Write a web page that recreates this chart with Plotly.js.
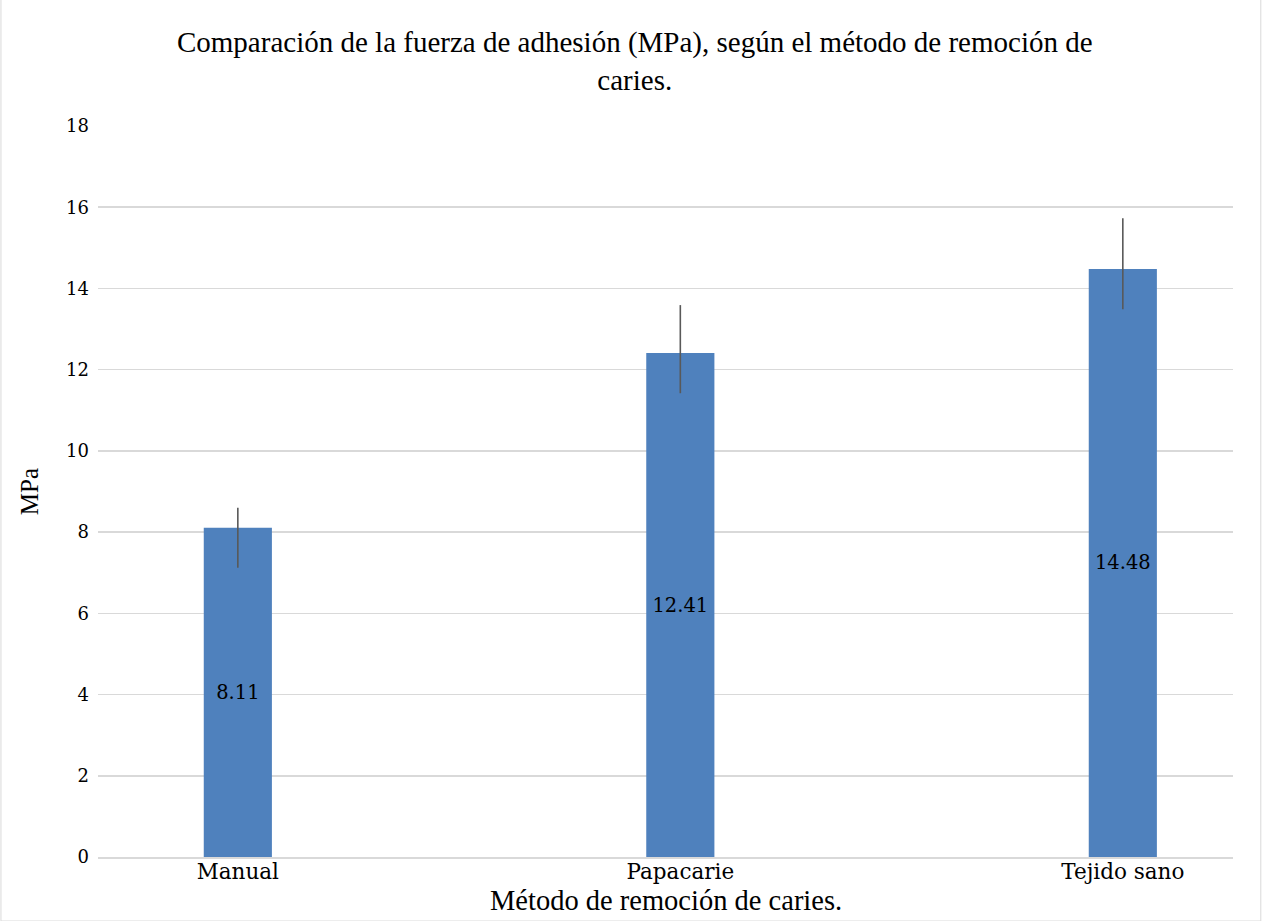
<!DOCTYPE html>
<html>
<head>
<meta charset="utf-8">
<script src="https://cdn.plot.ly/plotly-3.0.1.min.js"></script>
<style>html,body{margin:0;padding:0;background:#fff;}#chart{width:1262px;height:921px;}</style>
</head>
<body>
<div id="chart"></div>
<script>
const categories = ["Manual", "Papacarie", "Tejido sano"];
const values = [8.11, 12.41, 14.48];
const errPlus = [0.49, 1.18, 1.25];
const errMinus = [0.99, 0.99, 0.99];
const labels = ["8.11", "12.41", "14.48"];
const yTicks = [0, 2, 4, 6, 8, 10, 12, 14, 16, 18];
const xTitle = "Método de remoción de caries.";

const trace = {
  type: "bar",
  x: [0, 1, 2],
  y: values,
  width: 0.154,
  marker: {color: "#4F81BD", line: {width: 0}},
  text: labels,
  textposition: "inside",
  insidetextanchor: "middle",
  textangle: 0,
  textfont: {family: "DejaVu Serif", size: 19.5, color: "#000000"},
  error_y: {type: "data", symmetric: false, array: errPlus, arrayminus: errMinus,
            color: "#595959", thickness: 1.6, width: 0},
  hoverinfo: "none"
};

const layout = {
  width: 1262, height: 921,
  margin: {l: 98, r: 29, t: 126, b: 64},
  paper_bgcolor: "#ffffff", plot_bgcolor: "#ffffff",
  showlegend: false,
  title: {
    text: "Comparación de la fuerza de adhesión (MPa), según el método de remoción de<br>caries.",
    font: {family: "Liberation Serif", size: 29, color: "#000000"},
    xref: "container", x: 0.503, xanchor: "center",
    yref: "container", y: 0.9435, yanchor: "bottom"
  },
  xaxis: {
    range: [-0.316, 2.249],
    tickvals: [0, 1, 2],
    ticktext: categories,
    showgrid: false,
    zeroline: false,
    showline: true, linecolor: "#D9D9D9", linewidth: 1.5,
    ticks: "",
    ticklabelstandoff: -5,
    tickfont: {family: "DejaVu Serif", size: 21.5, color: "#000000"},
    fixedrange: true
  },
  yaxis: {
    range: [0, 18],
    tickvals: yTicks,
    showgrid: true, gridcolor: "#D9D9D9", gridwidth: 1.5,
    zeroline: false,
    showline: false,
    ticks: "",
    ticklabelstandoff: 8,
    tickfont: {family: "DejaVu Serif", size: 18, color: "#000000"},
    title: {text: "MPa", standoff: 20,
            font: {family: "Liberation Serif", size: 25, color: "#000000"}},
    fixedrange: true
  },
  annotations: [{
    text: xTitle, xref: "paper", yref: "paper", x: 0.5, y: -0.0595, xanchor: "center", yanchor: "middle",
    showarrow: false, font: {family: "Liberation Serif", size: 28.5, color: "#000000"}
  }],
  shapes: [{type: "rect", xref: "paper", yref: "paper", x0: -0.0855, x1: 1.0245, y0: -0.0876, y1: 1.1778,
            line: {color: "#D9D9D9", width: 1}, fillcolor: "rgba(0,0,0,0)", layer: "below"}]
};

Plotly.newPlot("chart", [trace], layout, {displayModeBar: false, staticPlot: true});
</script>
</body>
</html>
